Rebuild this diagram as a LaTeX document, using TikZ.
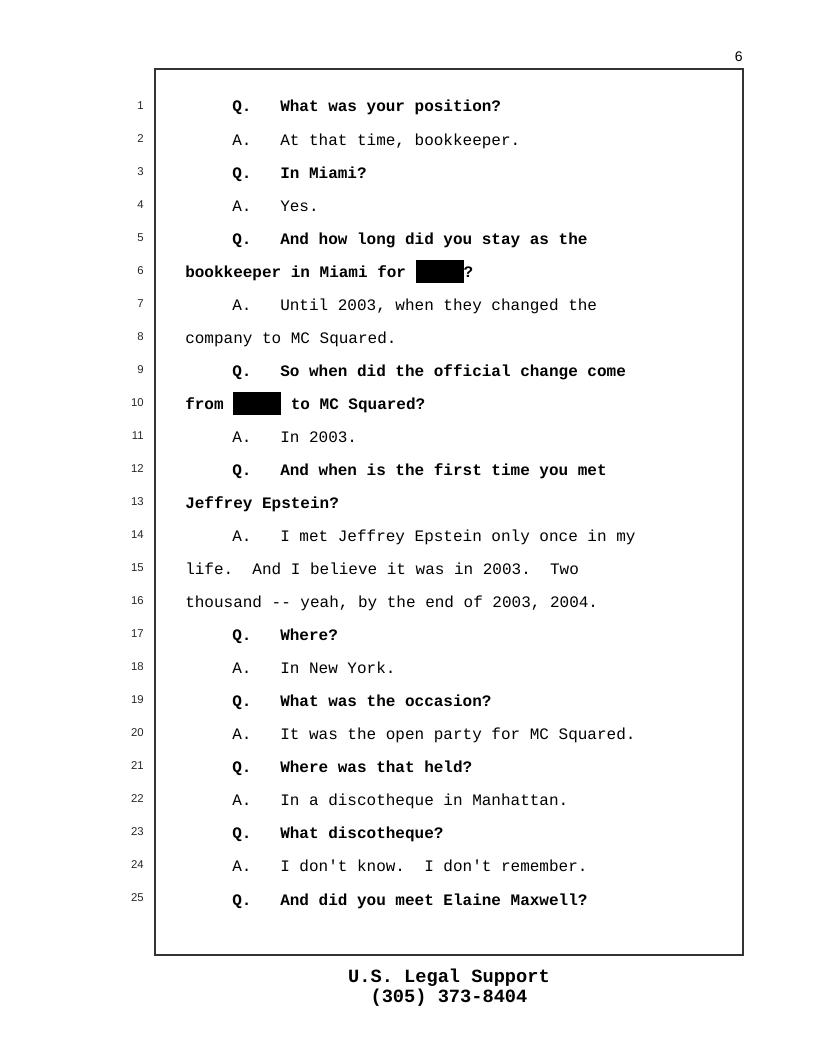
\documentclass[tikz,border=0pt]{standalone}
\usepackage{fontspec}
\setmainfont{Liberation Serif}
\setsansfont{Liberation Sans}
\setmonofont{Liberation Mono}
\usepackage{tikz}
\usetikzlibrary{positioning}

\newcommand{\qafont}{\ttfamily\fontsize{12}{14}\selectfont}
\newcommand{\redbox}{\rule[-4.5pt]{36pt}{17.25pt}}

\begin{document}
\begin{tikzpicture}[
                x=0.75pt, y=-0.75pt,
                qline/.style={anchor=base west, inner sep=0pt, font=\qafont\bfseries},
                aline/.style={anchor=base west, inner sep=0pt, font=\qafont},
                numtext/.style={anchor=base east, inner sep=0pt, text=black!85, font=\sffamily\fontsize{8.5}{9}\selectfont},
                foottext/.style={anchor=base, inner sep=0pt, font=\ttfamily\bfseries\fontsize{14}{15}\selectfont}
            ]
                \useasboundingbox (0,0) rectangle (816,1056);
                \draw[line width=1.1pt, black!80] (155,69) rectangle (743,955);
                \node[anchor=base east, inner sep=0pt, font=\sffamily\fontsize{10.5}{12}\selectfont] (pagenum) at (743,62) {6};

                \foreach \n in {1,...,25}
                    \node[numtext] (n\n) at (144,{109+33.04*(\n-1)}) {\n};

                \node[qline] (l1)  at (232,112.0) {Q.\ \ \ What was your position?};
                \node[aline] (l2)  at (232,145.0) {A.\ \ \ At that time, bookkeeper.};
                \node[qline] (l3)  at (232,178.1) {Q.\ \ \ In Miami?};
                \node[aline] (l4)  at (232,211.1) {A.\ \ \ Yes.};
                \node[qline] (l5)  at (232,244.2) {Q.\ \ \ And how long did you stay as the};
                \node[qline] (l6)  at (185,277.2) {bookkeeper in Miami for \redbox?};
                \node[aline] (l7)  at (232,310.2) {A.\ \ \ Until 2003, when they changed the};
                \node[aline] (l8)  at (185,343.3) {company to MC Squared.};
                \node[qline] (l9)  at (232,376.3) {Q.\ \ \ So when did the official change come};
                \node[qline] (l10) at (185,409.4) {from \redbox\ to MC Squared?};
                \node[aline] (l11) at (232,442.4) {A.\ \ \ In 2003.};
                \node[qline] (l12) at (232,475.4) {Q.\ \ \ And when is the first time you met};
                \node[qline] (l13) at (185,508.5) {Jeffrey Epstein?};
                \node[aline] (l14) at (232,541.5) {A.\ \ \ I met Jeffrey Epstein only once in my};
                \node[aline] (l15) at (185,574.6) {life.\ \ And I believe it was in 2003.\ \ Two};
                \node[aline] (l16) at (185,607.6) {thousand -- yeah, by the end of 2003, 2004.};
                \node[qline] (l17) at (232,640.6) {Q.\ \ \ Where?};
                \node[aline] (l18) at (232,673.7) {A.\ \ \ In New York.};
                \node[qline] (l19) at (232,706.7) {Q.\ \ \ What was the occasion?};
                \node[aline] (l20) at (232,739.8) {A.\ \ \ It was the open party for MC Squared.};
                \node[qline] (l21) at (232,772.8) {Q.\ \ \ Where was that held?};
                \node[aline] (l22) at (232,805.8) {A.\ \ \ In a discotheque in Manhattan.};
                \node[qline] (l23) at (232,838.9) {Q.\ \ \ What discotheque?};
                \node[aline] (l24) at (232,871.9) {A.\ \ \ I don't know.\ \ I don't remember.};
                \node[qline] (l25) at (232,905.0) {Q.\ \ \ And did you meet Elaine Maxwell?};

                \node[foottext] (firm)  at (449,982)  {U.S. Legal Support};
                \node[foottext] (phone) at (449,1002) {(305) 373-8404};
            \end{tikzpicture}
\end{document}
